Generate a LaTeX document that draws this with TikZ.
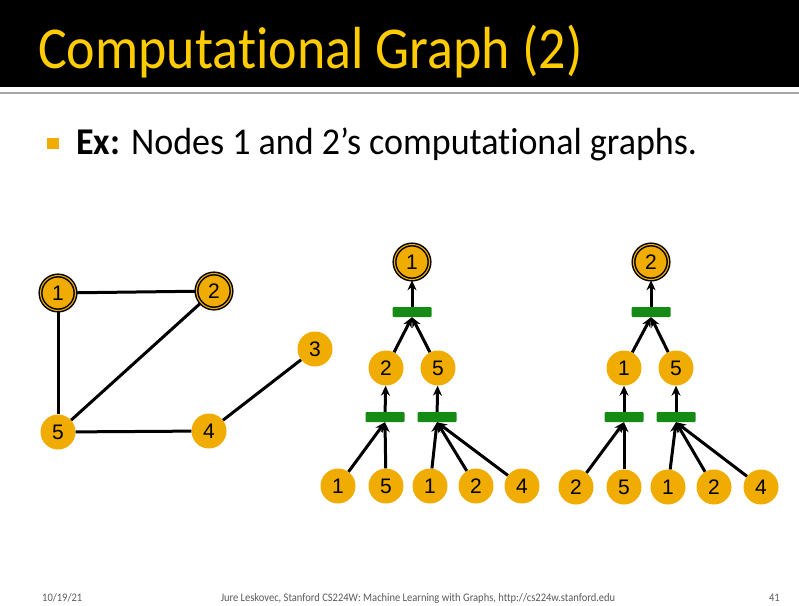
\documentclass[tikz,border=0pt]{standalone}
\usepackage{fontspec}
\setmainfont{Carlito}[Ligatures=NoCommon]
\newfontfamily\arialfont{Liberation Sans}
\usetikzlibrary{arrows.meta}
\definecolor{gold}{HTML}{F0AC00}
\definecolor{bargreen}{HTML}{158A15}
\definecolor{titleyellow}{HTML}{FFCC00}
\definecolor{footgray}{HTML}{595959}
\begin{document}
\begin{tikzpicture}[x=1pt, y=-1pt, >={Stealth[length=10pt,width=9pt]},
    gnode/.style={circle, fill=gold, minimum size=35pt, inner sep=0pt,
        font=\arialfont\fontsize{21}{21}\selectfont},
    rootnode/.style={gnode, draw=black, line width=1.5pt, double=gold, double distance=1.1pt},
    aggbar/.style={rectangle, fill=bargreen, minimum width=39pt, minimum height=10pt,
        inner sep=0pt, rounded corners=1pt},
    edge/.style={line width=3pt},
    flow/.style={edge, ->}]
    % 1. Khung trang và thanh tiêu đề
    \useasboundingbox (0,0) rectangle (799,605);
    \fill[black] (0,0) rectangle (799,87);
    \fill[gray!70] (0,92) rectangle (799,94);
    \node[anchor=base west, inner sep=0pt, text=titleyellow, yscale=1.1,
        font=\fontsize{54}{54}\selectfont] (title) at (38,68) {Computational Graph (2)};

    % 2. Dòng gạch đầu dòng
    \fill[gold] (47,138) rectangle (59,149);
    \node[anchor=base west, inner sep=0pt, yscale=1.05,
        font=\fontsize{36}{36}\selectfont] (ex) at (76,154)
        {\textbf{Ex:} Nodes 1 and 2’s computational graphs.};

    % 3. Đồ thị đầu vào
    \node[rootnode] (g1) at (58,293) {1};
    \node[rootnode] (g2) at (214,291) {2};
    \node[gnode] (g3) at (315,349) {3};
    \node[gnode] (g4) at (209,431) {4};
    \node[gnode] (g5) at (58,432) {5};
    \draw[edge] (g1) -- (g2);
    \draw[edge] (g1) -- (g5);
    \draw[edge] (g2) -- (g5);
    \draw[edge] (g5) -- (g4);
    \draw[edge] (g4) -- (g3);

    % 4. Đồ thị tính toán của nút 1
    \node[rootnode] (a) at (412,262) {1};
    \node[aggbar] (abar) at (412,312) {};
    \node[gnode] (a2) at (386,368) {2};
    \node[gnode] (a5) at (438,368) {5};
    \node[aggbar] (abarl) at (385,417) {};
    \node[aggbar] (abarr) at (437,417) {};
    \node[gnode] (a21) at (338,486) {1};
    \node[gnode] (a25) at (386,486) {5};
    \node[gnode] (a51) at (430,486) {1};
    \node[gnode] (a52) at (476,486) {2};
    \node[gnode] (a54) at (522,486) {4};
    \draw[flow] (abar) -- (a);
    \draw[flow] (a2) -- (abar.south);
    \draw[flow] (a5) -- (abar.south);
    \draw[flow] (abarl) -- (a2);
    \draw[flow] (abarr) -- (a5);
    \foreach \leaf in {a21, a25}
        \draw[flow] (\leaf) -- (abarl.south);
    \foreach \leaf in {a51, a52, a54}
        \draw[flow] (\leaf) -- (abarr.south);

    % 5. Đồ thị tính toán của nút 2
    \node[rootnode] (b) at (651,262) {2};
    \node[aggbar] (bbar) at (651,312) {};
    \node[gnode] (b1) at (624,368) {1};
    \node[gnode] (b5) at (676,368) {5};
    \node[aggbar] (bbarl) at (624,417) {};
    \node[aggbar] (bbarr) at (676,417) {};
    \node[gnode] (b12) at (576,487) {2};
    \node[gnode] (b15) at (624,487) {5};
    \node[gnode] (b51) at (668,487) {1};
    \node[gnode] (b52) at (714,487) {2};
    \node[gnode] (b54) at (761,487) {4};
    \draw[flow] (bbar) -- (b);
    \draw[flow] (b1) -- (bbar.south);
    \draw[flow] (b5) -- (bbar.south);
    \draw[flow] (bbarl) -- (b1);
    \draw[flow] (bbarr) -- (b5);
    \foreach \leaf in {b12, b15}
        \draw[flow] (\leaf) -- (bbarl.south);
    \foreach \leaf in {b51, b52, b54}
        \draw[flow] (\leaf) -- (bbarr.south);

    % 6. Chân trang
    \begin{scope}[every node/.style={anchor=base, inner sep=0pt, text=footgray,
            yscale=1.1, font=\fontsize{10.5}{10.5}\selectfont}]
        \node[anchor=base west] (date) at (42,601) {10/19/21};
        \node (credit) at (418,601) {Jure Leskovec, Stanford CS224W: Machine Learning with Graphs, http://cs224w.stanford.edu};
        \node[anchor=base east] (page) at (780,601) {41};
    \end{scope}
\end{tikzpicture}
\end{document}
